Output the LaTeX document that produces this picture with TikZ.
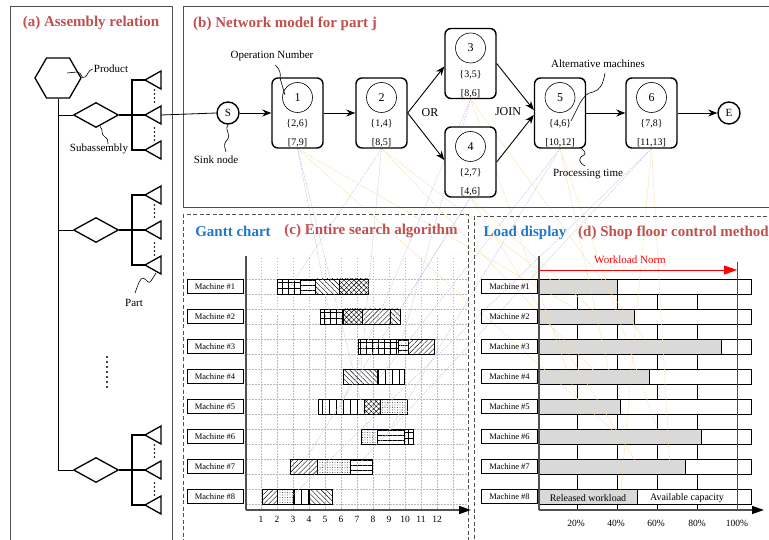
\documentclass[tikz,border=0pt]{standalone}
\usepackage{fontspec}
\setmainfont{Liberation Serif}
\usetikzlibrary{patterns.meta,arrows.meta,calc,shapes.geometric}
\definecolor{tred}{HTML}{C0504D}
\definecolor{tblue}{HTML}{1F78C8}
\definecolor{loadgray}{HTML}{D9D9D9}
\definecolor{axgray}{HTML}{505050}
\definecolor{faintblue}{HTML}{C4C4E2}
\definecolor{faintorange}{HTML}{F9D9A0}
\definecolor{gridgray}{HTML}{B8B8B8}
\newcommand{\fsz}[1]{\fontsize{#1}{#1}\selectfont}
\pgfdeclarelayer{bglayer}
\pgfdeclarelayer{midlayer}
\pgfsetlayers{bglayer,midlayer,main}
\begin{document}
\begin{tikzpicture}[x=1pt,y=-1pt,
  paneltitle/.style={font=\fsz{15}\bfseries,text=tred,inner sep=0pt},
  bluetitle/.style={font=\fsz{15}\bfseries,text=tblue,inner sep=0pt},
  note/.style={font=\fsz{11},inner sep=1pt},
  opbox/.style={draw,line width=1.4pt,rounded corners=6pt,minimum width=51pt,minimum height=70pt,fill=white,inner sep=0pt},
  opcirc/.style={draw,circle,line width=0.6pt,minimum size=30pt,inner sep=0pt,font=\fsz{12}},
  optext/.style={font=\fsz{10},inner sep=0pt},
  endnode/.style={draw,circle,line width=1.4pt,minimum size=22pt,inner sep=0pt,font=\fsz{11}},
  flow/.style={line width=0.9pt,-{Stealth[length=9pt,width=7pt]}},
  squig/.style={line width=0.6pt},
  panel/.style={draw=axgray,line width=0.8pt},
  dpanel/.style={draw=axgray,line width=0.8pt,dash pattern=on 4pt off 2.5pt},
  mlabel/.style={draw,line width=0.7pt,minimum width=56pt,minimum height=14pt,inner sep=0pt,font=\fsz{8.5}},
  subasm/.style={draw,diamond,line width=1.3pt,minimum width=45pt,minimum height=25pt,inner sep=0pt},
  product/.style={draw,regular polygon,regular polygon sides=6,line width=1.3pt,minimum size=46pt,inner sep=0pt},
  thick1/.style={line width=1.3pt},
  ggrid/.style={draw=gridgray,line width=0.5pt,dash pattern=on 1.5pt off 1.5pt},
  faintb/.style={draw=faintblue,line width=0.5pt,dash pattern=on 1.5pt off 1pt},
  fainto/.style={draw=faintorange,line width=0.5pt,dash pattern=on 1.5pt off 1pt},
  pgridp/.style={pattern={Hatch[angle=0,distance=6pt,line width=0.4pt]}},
  phl/.style={pattern={Lines[angle=0,distance=5pt,line width=0.5pt]}},
  pvl/.style={pattern={Lines[angle=90,distance=7pt,line width=0.5pt]}},
  pne/.style={pattern={Lines[angle=45,distance=3.5pt,line width=0.4pt]}},
  pnw/.style={pattern={Lines[angle=-45,distance=3.5pt,line width=0.4pt]}},
  pcross/.style={pattern={Hatch[angle=45,distance=3.5pt,line width=0.4pt]}},
  pdots/.style={pattern={Dots[distance=2.5pt,radius=0.45pt]}},
  gseg/.style={draw,line width=0.7pt}
]
\useasboundingbox (0,0) rectangle (769,540);

% ================= panels =================
\draw[panel] (10,6) rectangle (172,560);
\draw[panel] (183,6) rectangle (790,207);
\draw[dpanel] (183,214) rectangle (468,560);
\draw[dpanel] (474,216) rectangle (790,560);

\node[paneltitle] at (91,23) {(a) Assembly relation};
\node[paneltitle,anchor=west] at (193,24) {(b) Network model for part j};
\node[bluetitle] at (233,231) {Gantt chart};
\node[paneltitle] at (371,231) {(c) Entire search algorithm};
\node[bluetitle] at (525,233) {Load display};
\node[paneltitle,anchor=west] at (578,233) {(d) Shop floor control method};

% ================= (a) assembly relation =================
\node[product] (hex) at (58,78) {};
\draw[line width=0.7pt] (hex.south) -- (58,470);
\foreach \gy [count=\gi] in {115,230,470}{
  \node[subasm] (d\gi) at (96,\gy) {};
  \draw[line width=0.7pt] (58,\gy) -- (d\gi.west);
  \draw[thick1] (d\gi.east) -- (132,\gy);
  \draw[thick1] (145,\gy-35) -- (132,\gy-35) -- (132,\gy+35) -- (145,\gy+35);
  \draw[thick1] (132,\gy) -- (145,\gy);
  \foreach \dy in {-35,0,35}
    \draw[thick1,line join=miter] (145,\gy+\dy) -- (161,\gy+\dy-9) -- (161,\gy+\dy+9) -- cycle;
  \foreach \dy in {-25,-21,-17,-13,13,17,21,25}
    \fill (154.5,\gy+\dy) circle (0.9pt);
}
\foreach \dy in {0,5,10,15,20,25,30}
  \fill (107,357+\dy) circle (1.2pt);
\coordinate (tri1) at (161,115);

\node[note] (prod) at (111,69) {Product};
\node[note] (subl) at (99,149) {Subassembly};
\node[note] (partl) at (134,303) {Part};
\draw[squig] (67,73) -- (77,72) .. controls (83,72) and (80,80) .. (85,77) .. controls (88,75) and (88,70) .. (prod.west);
\draw[squig] (100,126) .. controls (104,131) and (100,134) .. (105,137) .. controls (110,140) and (106,142) .. (108,144);
\draw[squig] (135,293) .. controls (138,285) and (140,278) .. (143,278) .. controls (147,279) and (148,285) .. (151,281) -- (156,273);

% ================= (b) network model =================
\node[endnode] (S) at (228,113) {S};
\node[endnode] (E) at (729,113) {E};
\draw[line width=0.8pt] (tri1) -- (S.west);

\foreach \n/\bx/\by/\mm/\tt in {1/297.5/113/{\{2,6\}}/{[7,9]},
                               2/381.5/113/{\{1,4\}}/{[8,5]},
                               3/470.5/63.5/{\{3,5\}}/{[8,6]},
                               4/470.5/162/{\{2,7\}}/{[4,6]},
                               5/560/113/{\{4,6\}}/{[10,12]},
                               6/651.5/113/{\{7,8\}}/{[11,13]}}{
  \node[opbox] (b\n) at (\bx,\by) {};
  \node[opcirc] (c\n) at (\bx,\by-15.5) {\n};
  \node[optext] (m\n) at (\bx,\by+11) {\mm};
  \node[optext] (t\n) at (\bx,\by+30) {\tt};
}
\draw[flow] (S) -- (b1);
\draw[flow] (b1) -- (b2);
\draw[flow] (b2.east) -- ($(b3.west)+(0,3)$);
\draw[flow] (b2.east) -- ($(b4.west)+(0,-2)$);
\draw[flow] (b3.east) -- ($(b5.west)+(0,-3)$);
\draw[flow] (b4.east) -- ($(b5.west)+(0,2)$);
\draw[flow] (b5) -- (b6);
\draw[flow] (b6) -- (E);
\node[font=\fsz{12}] (orl) at (430,113) {OR};
\node[font=\fsz{12}] (joinl) at (508,112) {JOIN};

\node[note] (opn) at (272,56) {Operation Number};
\node[note] (sink) at (216,160) {Sink node};
\node[note] (alt) at (598,64) {Alternative machines};
\node[note] (ptime) at (588,174) {Processing time};
\draw[squig] (275,65) .. controls (280,69) and (281,74) .. (280,78) -- (285,95);
\draw[squig] (S.south) .. controls (224,131) and (232,134) .. (227,140) .. controls (222,146) and (226,148) .. (226,152);
\draw[squig] (605,73) .. controls (603,85) and (600,90) .. (593,92) .. controls (586,93) and (584,97) .. (580,103) -- (571,121);
\draw[squig] (585,166) .. controls (578,162) and (578,158) .. (584,155) .. controls (587,153) and (583,150) .. (581,148);

% ================= (c) Gantt chart =================
\begin{pgfonlayer}{bglayer}
\foreach \k in {1,...,13}
  \draw[ggrid] (245+16*\k,258) -- (245+16*\k,510);
\foreach \r in {1,...,8}{
  \draw[ggrid] (246,249+30*\r) -- (467,249+30*\r);
  \draw[ggrid] (246,264+30*\r) -- (467,264+30*\r);
}
\foreach \r/\a/\b/\p in {
  1/277/300/pgridp, 1/300/315/phl, 1/315/339/pnw, 1/339/368/pcross,
  2/320/343/pgridp, 2/343/362/pcross, 2/362/390/pne, 2/390/400/pnw,
  3/358/398/pgridp, 3/398/408/phl, 3/408/434/pne,
  4/343/377/pnw, 4/377/404/pvl,
  5/318/364/pvl, 5/364/380/pcross, 5/380/407/pdots,
  6/361/377/pdots, 6/377/404/phl, 6/404/413/pgridp,
  7/290/317/pne, 7/317/350/pdots, 7/350/372/phl,
  8/262/277/pne, 8/277/293/pdots, 8/293/309/pvl, 8/309/332/pnw}
  \draw[gseg,\p] (\a,249+30*\r) rectangle (\b,264+30*\r);

% ================= (d) load display =================
\foreach \r/\g in {1/617,2/634,3/721,4/649,5/620,6/701,7/685,8/637}{
  \fill[loadgray] (539,249+30*\r) rectangle (\g,264+30*\r);
  \draw[line width=0.8pt] (\g,249+30*\r) -- (\g,264+30*\r);
  \draw[line width=0.8pt] (539,249+30*\r) rectangle (751,264+30*\r);
  \foreach \vx in {577,617,657,697}
    \draw[line width=0.8pt] (\vx,264+30*\r) -- (\vx,{min(279+30*\r,510)});
}
\end{pgfonlayer}

\foreach \r in {1,...,8}{
  \node[mlabel] (gm\r) at (215,256.5+30*\r) {Machine \#\r};
  \node[mlabel] (lm\r) at (509.5,256.5+30*\r) {Machine \#\r};
}
\coordinate (gorig) at (246,510);
\coordinate (gtop) at (246,256);
\coordinate (gend) at (471,510);
\draw[axgray,line width=1.5pt] (gtop) -- (gorig);
\draw[line width=1.5pt,draw=axgray,-{Triangle[length=12pt,width=8pt,fill=black,color=black]}] (gorig) -- (gend);
\foreach \k in {1,...,12}
  \node[font=\fsz{9.5},inner sep=0pt] (tk\k) at (245+16*\k,519) {\k};

\coordinate (lorig) at (539,510);
\coordinate (ltop) at (539,256);
\coordinate (lend) at (764,510);
\draw[axgray,line width=1.5pt] (ltop) -- (lorig);
\draw[line width=1.5pt,draw=axgray,-{Triangle[length=12pt,width=8pt,fill=black,color=black]}] (lorig) -- (lend);
\foreach \pc/\px in {20/576,40/616,60/656,80/697,100/737}
  \node[font=\fsz{9.5},inner sep=0pt] (pc\pc) at (\px,523) {\pc\%};

\node[font=\fsz{10},inner sep=0pt] (relw) at (588,498) {Released workload};
\node[font=\fsz{10},inner sep=0pt] (avc) at (687,498) {Available capacity};

\coordinate (nt) at (737,262);
\coordinate (nb) at (737,510);
\coordinate (ns) at (539,270);
\coordinate (ne) at (737,270);
\draw[red,line width=0.8pt] (nt) -- (nb);
\draw[red,line width=0.8pt,-{Triangle[length=13pt,width=9pt]}] (ns) -- (ne);
\node[font=\fsz{11},text=red,inner sep=0pt] (wnorm) at (630,260) {Workload Norm};

% ================= faint linking lines =================
\begin{pgfonlayer}{midlayer}
\foreach \bb/\ex/\ey in {1/330/317, 1/370/437, 2/290/287, 2/360/377, 3/400/347, 3/340/407,
                         4/395/317, 4/300/468, 5/380/377, 5/385/437, 6/355/468, 6/290/498}
  \draw[faintb] (b\bb.south) -- (\ex,\ey);
\foreach \bb/\ex/\ey in {1/590/317, 1/620/437, 2/560/287, 2/600/377, 3/650/347, 3/580/407,
                         4/600/317, 4/640/468, 5/610/377, 5/660/437, 6/670/468, 6/620/498}
  \draw[fainto] (b\bb.south) -- (\ex,\ey);
\end{pgfonlayer}
\end{tikzpicture}
\end{document}
